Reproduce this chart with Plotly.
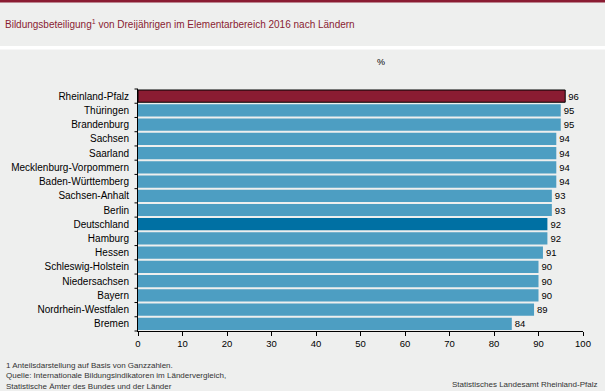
import plotly.graph_objects as go

laender = ["Rheinland-Pfalz", "Thüringen", "Brandenburg", "Sachsen", "Saarland",
           "Mecklenburg-Vorpommern", "Baden-Württemberg", "Sachsen-Anhalt", "Berlin",
           "Deutschland", "Hamburg", "Hessen", "Schleswig-Holstein", "Niedersachsen",
           "Bayern", "Nordrhein-Westfalen", "Bremen"]
werte = [96, 95, 95, 94, 94, 94, 94, 93, 93, 92, 92, 91, 90, 90, 90, 89, 84]
x_ticks = [0, 10, 20, 30, 40, 50, 60, 70, 80, 90, 100]

RED = "#8a1c32"
BLUE = "#4d9ec2"
DBLUE = "#0070a3"
BG = "#eeefee"

colors = [RED if l == "Rheinland-Pfalz" else DBLUE if l == "Deutschland" else BLUE for l in laender]
lw = [1 if l == "Rheinland-Pfalz" else 0 for l in laender]

fig = go.Figure(go.Bar(
    y=laender, x=werte, orientation="h",
    marker=dict(color=colors, line=dict(color="black", width=lw)),
    text=[str(v) for v in werte], textposition="outside",
    textfont=dict(family="Liberation Sans, Arial", size=9.5, color="black"),
    cliponaxis=False, hoverinfo="skip",
))

fig.update_layout(
    width=605, height=391,
    margin=dict(l=138, r=22, t=89, b=60, autoexpand=False),
    paper_bgcolor=BG, plot_bgcolor=BG,
    bargap=0.14,
    showlegend=False,
    font=dict(family="Liberation Sans, Arial", size=10, color="black"),
    xaxis=dict(range=[0, 100], tickvals=x_ticks, showgrid=False, zeroline=False,
               showline=True, linecolor="black", linewidth=1, automargin=False,
               ticks="outside", ticklen=4, tickcolor="black",
               tickfont=dict(size=9.5, color="black")),
    yaxis=dict(autorange="reversed", showgrid=False, zeroline=False, automargin=False,
               showline=True, linecolor="black", linewidth=1,
               ticks="", ticklabelstandoff=6,
               tickfont=dict(size=10, color="black")),
)

H = 242.0  # plot height in px
def py(pix):
    return (331 - pix) / H
def px(pix):
    return (pix - 138) / 445.0

shapes = [
    dict(type="rect", xref="paper", yref="paper", x0=px(-2), x1=px(607), y0=py(-2), y1=py(2.5),
         fillcolor=RED, line_width=0, layer="above"),
    dict(type="rect", xref="paper", yref="paper", x0=px(-2), x1=px(607), y0=py(46), y1=py(49.5),
         fillcolor="white", line_width=0, layer="above"),
]
n = len(laender)
for i in range(n + 1):
    yy = i / n
    shapes.append(dict(type="line", xref="paper", yref="paper", x0=px(134.5), x1=px(138),
                       y0=yy, y1=yy, line=dict(color="black", width=1)))
fig.update_layout(shapes=shapes)

anns = [
    dict(text="Bildungsbeteiligung<sup>1</sup> von Dreijährigen im Elementarbereich 2016 nach Ländern",
         x=px(3), y=py(24), xref="paper", yref="paper", xanchor="left", yanchor="middle",
         showarrow=False, font=dict(size=10, color=RED)),
    dict(text="%", x=px(381), y=py(62), xref="paper", yref="paper", xanchor="center", yanchor="middle",
         showarrow=False, font=dict(size=9, color="black")),
    dict(text="1 Anteilsdarstellung auf Basis von Ganzzahlen.<br>Quelle: Internationale Bildungsindikatoren im Ländervergleich,<br>Statistische Ämter des Bundes und der Länder",
         x=px(4), y=py(359), xref="paper", yref="paper", xanchor="left", yanchor="top", align="left",
         showarrow=False, font=dict(size=8, color="#333333")),
    dict(text="Statistisches Landesamt Rheinland-Pfalz",
         x=px(599), y=py(384), xref="paper", yref="paper", xanchor="right", yanchor="middle",
         showarrow=False, font=dict(size=8, color="#333333")),
]
fig.update_layout(annotations=anns)

fig.write_html("out.html", config={"displayModeBar": False},
               post_script="document.body.style.margin='0';document.body.style.overflow='hidden';")
